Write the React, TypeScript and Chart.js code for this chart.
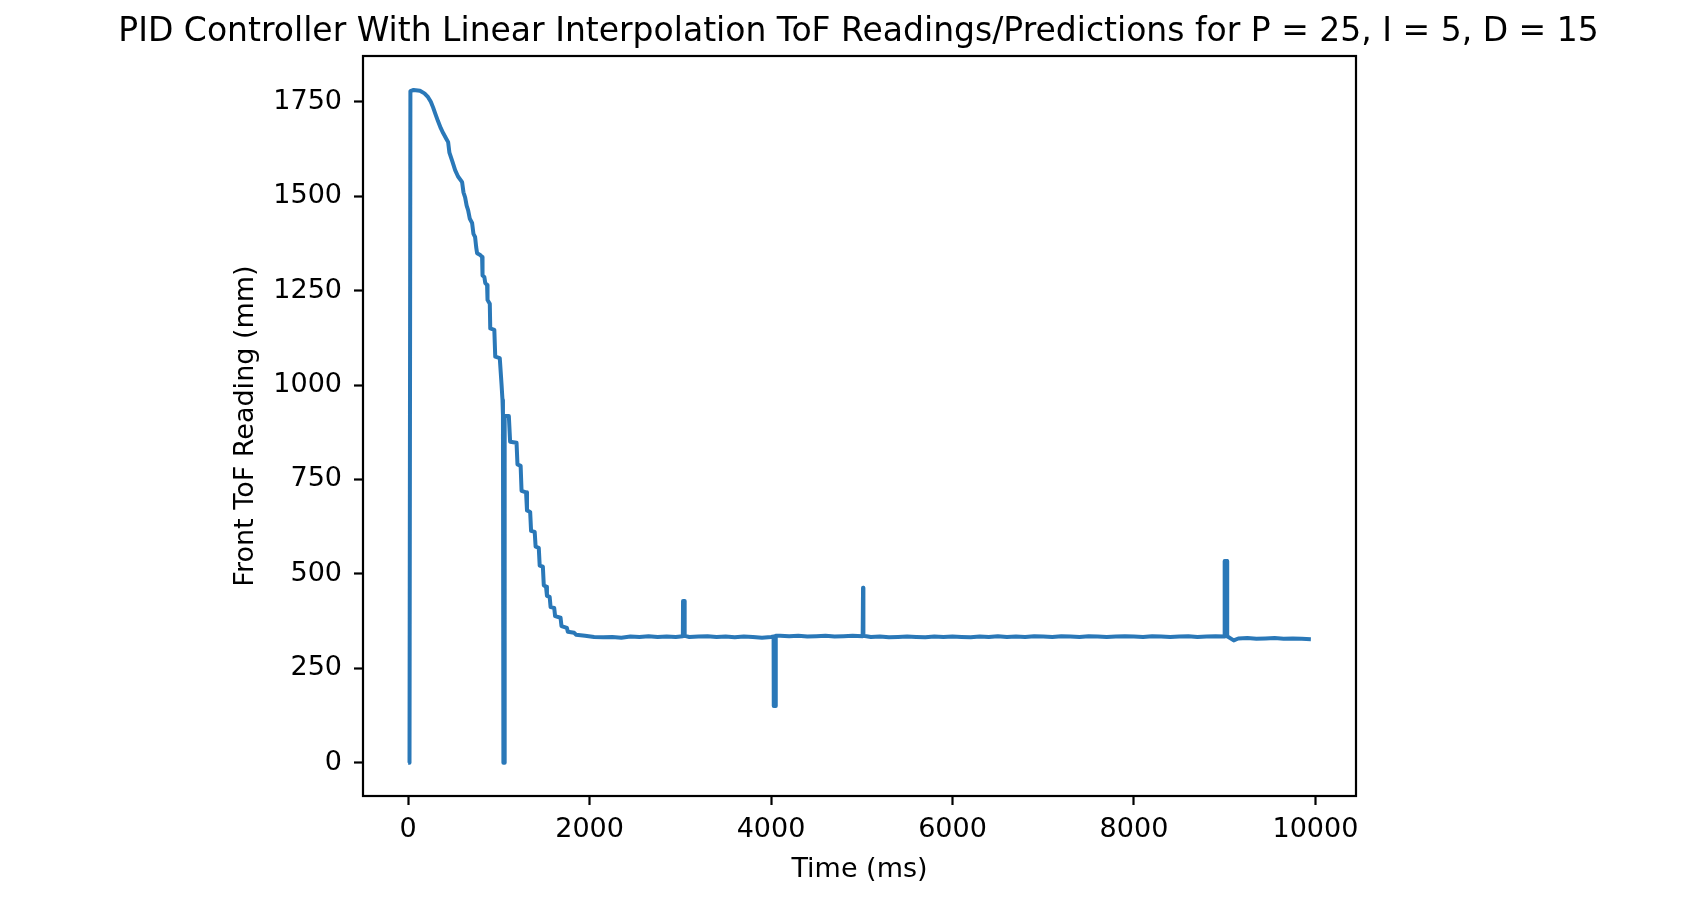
import React, { useEffect, useRef } from "react";
import { Chart, registerables } from "chart.js";

Chart.register(...registerables);

const chartTitle =
  "PID Controller With Linear Interpolation ToF Readings/Predictions for P = 25, I = 5, D = 15";
const xAxisLabel = "Time (ms)";
const yAxisLabel = "Front ToF Reading (mm)";

const xTickValues = [0, 2000, 4000, 6000, 8000, 10000];
const yTickValues = [0, 250, 500, 750, 1000, 1250, 1500, 1750];

// time stamps (ms)
const timeMs = [
  0, 15, 25, 60, 130, 180, 220, 250, 275, 300, 330, 360, 386, 420, 441, 455, 490, 518, 550, 595,
  610, 628, 645, 661, 680, 705, 720, 738, 750, 760, 790, 815, 820, 840, 850, 870, 875, 900, 905, 950,
  960, 1010, 1030, 1040, 1045, 1050, 1060, 1064, 1110, 1124, 1195, 1205, 1240, 1250, 1300, 1310, 1345, 1355, 1395, 1405,
  1440, 1450, 1485, 1495, 1520, 1530, 1560, 1570, 1610, 1620, 1680, 1690, 1750, 1760, 1830, 1850, 1950, 2050, 2150, 2250,
  2350, 2450, 2550, 2650, 2750, 2850, 2950, 3028, 3030, 3046, 3048, 3100, 3200, 3300, 3400, 3500, 3600, 3700, 3800, 3900,
  4000, 4028, 4030, 4050, 4052, 4100, 4200, 4300, 4400, 4500, 4600, 4700, 4800, 4900, 5010, 5014, 5018, 5100, 5200, 5300,
  5400, 5500, 5600, 5700, 5800, 5900, 6000, 6100, 6200, 6300, 6400, 6500, 6600, 6700, 6800, 6900, 7000, 7100, 7200, 7300,
  7400, 7500, 7600, 7700, 7800, 7900, 8000, 8100, 8200, 8300, 8400, 8500, 8600, 8700, 8800, 8900, 8998, 9000, 9026, 9028,
  9060, 9100, 9150, 9250, 9350, 9450, 9550, 9650, 9750, 9850, 9950,
];

// front ToF reading (mm)
const frontTofMm = [
  0, 0, 1778, 1781, 1779, 1772, 1762, 1750, 1735, 1718, 1698, 1680, 1667, 1652, 1643, 1615, 1590, 1569, 1552, 1537,
  1510, 1497, 1475, 1463, 1440, 1429, 1400, 1392, 1365, 1349, 1345, 1339, 1290, 1286, 1270, 1265, 1225, 1215, 1150, 1146,
  1075, 1071, 1000, 960, 920, 0, 0, 918, 918, 850, 847, 790, 786, 720, 716, 668, 664, 614, 611, 572,
  569, 522, 519, 470, 466, 442, 439, 412, 410, 388, 384, 362, 357, 347, 344, 339, 336, 333, 332, 333,
  331, 334, 333, 335, 333, 334, 333, 335, 428, 428, 336, 333, 334, 335, 333, 334, 332, 334, 333, 331,
  333, 334, 150, 150, 336, 336, 335, 336, 334, 335, 336, 334, 335, 336, 335, 463, 336, 333, 334, 332,
  333, 334, 333, 332, 334, 333, 334, 333, 332, 334, 333, 335, 333, 334, 333, 335, 334, 333, 335, 334,
  333, 335, 334, 333, 334, 335, 334, 333, 335, 334, 333, 334, 335, 333, 334, 335, 334, 534, 534, 335,
  330, 324, 329, 330, 328, 329, 330, 328, 329, 328, 327,
];

const FONT = "'DejaVu Sans', sans-serif";
const CANVAS_W = 1717;
const CANVAS_H = 913;

export default function App() {
  const ref = useRef<HTMLCanvasElement>(null);

  useEffect(() => {
    const canvas = ref.current;
    if (!canvas) return;

    const framePlugin = {
      id: "frame",
      afterDatasetsDraw(chart: any) {
        const { ctx, chartArea: a } = chart;
        ctx.save();
        ctx.strokeStyle = "#000";
        ctx.lineWidth = 2.2;
        ctx.strokeRect(a.left, a.top, a.right - a.left, a.bottom - a.top);
        ctx.restore();
      },
    };

    const points = timeMs.map((t, i) => ({ x: t, y: frontTofMm[i] }));

    const chart = new Chart(canvas, {
      type: "line",
      data: {
        datasets: [
          {
            data: points,
            borderColor: "#2a78b8",
            borderWidth: 4,
            pointRadius: 0,
            tension: 0,
            borderJoinStyle: "round",
            borderCapStyle: "butt",
            fill: false,
          },
        ],
      },
      options: {
        responsive: false,
        animation: false,
        devicePixelRatio: 1,
        layout: { padding: 0 },
        plugins: {
          legend: { display: false },
          tooltip: { enabled: false },
          title: {
            display: true,
            text: chartTitle,
            fullSize: true,
            color: "#000",
            font: { family: FONT, size: 33, weight: "normal" },
            padding: { top: 13, bottom: 3.4 },
          },
        },
        scales: {
          x: {
            type: "linear",
            min: -497.5,
            max: 10447.5,
            afterBuildTicks: (s: any) => {
              s.ticks = xTickValues.map((v) => ({ value: v }));
            },
            afterFit: (s: any) => {
              s.height = 117;
            },
            ticks: {
              color: "#000",
              font: { family: FONT, size: 27 },
              padding: 9,
              maxRotation: 0,
              autoSkip: false,
              callback: (v: any) => String(v),
            },
            grid: {
              drawOnChartArea: false,
              drawTicks: true,
              tickLength: 9,
              tickWidth: 2.2,
              tickColor: "#000",
            },
            border: { display: false },
            title: {
              display: true,
              text: xAxisLabel,
              color: "#000",
              font: { family: FONT, size: 27 },
              padding: { top: 0, bottom: 27 },
            },
          },
          y: {
            type: "linear",
            position: "left",
            min: -88,
            max: 1871,
            afterBuildTicks: (s: any) => {
              s.ticks = yTickValues.map((v) => ({ value: v }));
            },
            afterFit: (s: any) => {
              s.width = 363;
            },
            ticks: {
              color: "#000",
              font: { family: FONT, size: 27 },
              padding: 12,
              autoSkip: false,
              callback: (v: any) => String(v),
            },
            grid: {
              drawOnChartArea: false,
              drawTicks: true,
              tickLength: 9,
              tickWidth: 2.2,
              tickColor: "#000",
            },
            border: { display: false },
            title: {
              display: true,
              text: yAxisLabel,
              color: "#000",
              font: { family: FONT, size: 27 },
              padding: { top: 230, bottom: 0 },
            },
          },
          spacer: {
            type: "linear",
            position: "right",
            min: 0,
            max: 1,
            afterFit: (s: any) => {
              s.width = CANVAS_W - 1356;
            },
            ticks: { display: false },
            grid: { display: false, drawTicks: false },
            border: { display: false },
            title: { display: false },
          },
        },
      },
      plugins: [framePlugin],
    });

    return () => chart.destroy();
  }, []);

  return (
    <div
      style={{
        position: "fixed",
        left: 0,
        top: 0,
        width: CANVAS_W,
        height: CANVAS_H,
        background: "#fff",
      }}
    >
      <canvas
        ref={ref}
        width={CANVAS_W}
        height={CANVAS_H}
        style={{ display: "block", width: CANVAS_W, height: CANVAS_H }}
      />
    </div>
  );
}
